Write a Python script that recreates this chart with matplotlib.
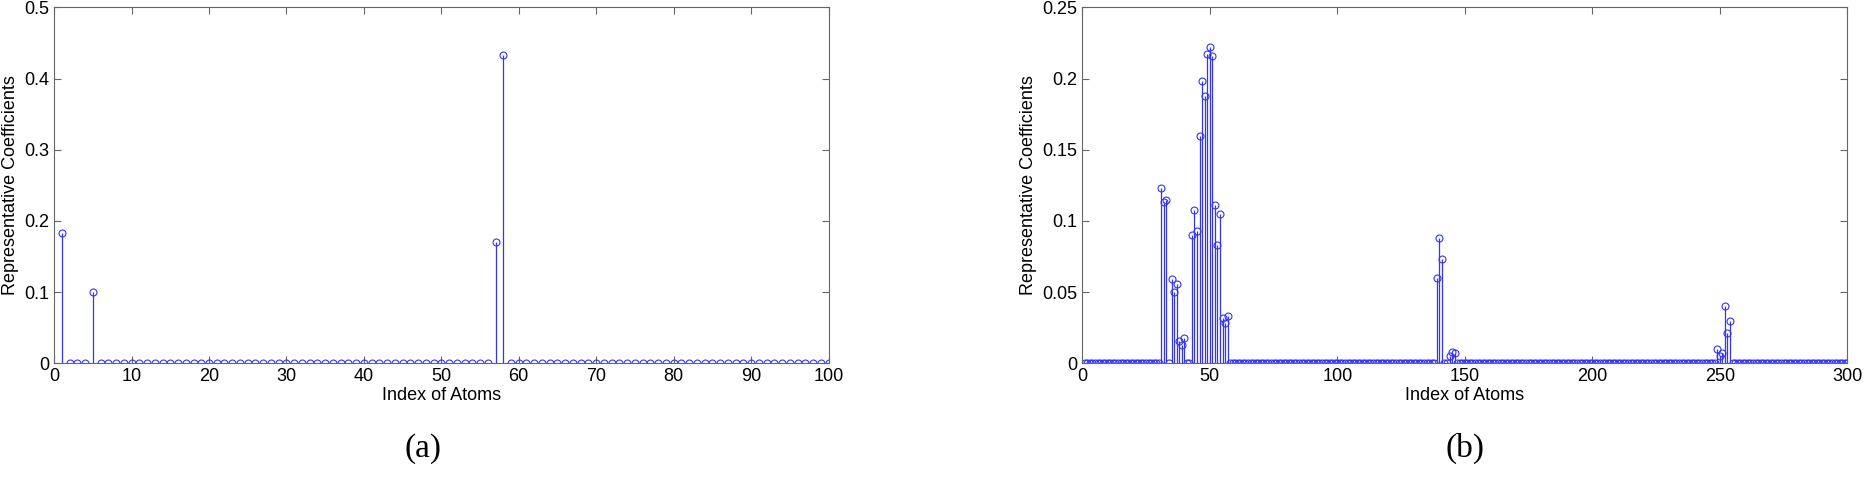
import numpy as np
import matplotlib
matplotlib.use("Agg")
import matplotlib.pyplot as plt

# Left panel data (100 atoms)
left_idx = list(range(1, 101))
left_nonzero = {1: 0.183, 5: 0.100, 57: 0.170, 58: 0.433}
left_vals = [left_nonzero.get(i, 0.0) for i in left_idx]

# Right panel data (300 atoms)
right_idx = list(range(1, 301))
right_nonzero = {
    31: 0.123, 32: 0.113, 33: 0.115, 35: 0.059, 36: 0.050, 37: 0.056,
    38: 0.016, 39: 0.013, 40: 0.018,
    43: 0.090, 44: 0.108, 45: 0.093, 46: 0.160, 47: 0.198, 48: 0.188,
    49: 0.217, 50: 0.222, 51: 0.216, 52: 0.111, 53: 0.083, 54: 0.105,
    55: 0.032, 56: 0.028, 57: 0.033,
    139: 0.060, 140: 0.088, 141: 0.073, 144: 0.005, 145: 0.008, 146: 0.007,
    249: 0.010, 250: 0.005, 251: 0.007, 252: 0.040, 253: 0.021, 254: 0.030,
}
right_vals = [right_nonzero.get(i, 0.0) for i in right_idx]

plt.rcParams['font.family'] = ['Liberation Sans', 'DejaVu Sans']
fig = plt.figure(figsize=(18.66, 4.91), dpi=100)
blue = '#3333ff'

def stem(ax, x, y, ms):
    ax.vlines(x, 0, y, color=blue, lw=0.9)
    ax.plot(x, y, 'o', mfc='none', mec=blue, ms=ms, mew=0.8, ls='none')
    for s in ax.spines.values():
        s.set_color('#666666')
    ax.tick_params(direction='in', labelsize=13, colors='#666666', labelcolor='black',
                   top=True, right=True, length=5)
    ax.set_xlabel('Index of Atoms', fontsize=13, labelpad=1)
    ax.set_ylabel('Representative Coefficients', fontsize=13)

ax1 = fig.add_axes([0.029, 0.26, 0.415, 0.725])
stem(ax1, left_idx, left_vals, 5)
ax1.set_xlim(0, 100); ax1.set_ylim(0, 0.5)
ax1.set_xticks(range(0, 101, 10))
ax1.set_yticks([0, 0.1, 0.2, 0.3, 0.4, 0.5])
ax1.set_yticklabels(['0', '0.1', '0.2', '0.3', '0.4', '0.5'])

ax2 = fig.add_axes([0.58, 0.26, 0.41, 0.725])
stem(ax2, right_idx, right_vals, 5)
ax2.set_xlim(0, 300); ax2.set_ylim(0, 0.25)
ax2.set_xticks(range(0, 301, 50))
ax2.set_yticks([0, 0.05, 0.1, 0.15, 0.2, 0.25])
ax2.set_yticklabels(['0', '0.05', '0.1', '0.15', '0.2', '0.25'])

fig.text(0.2265, 0.07, '(a)', family='Liberation Serif', fontsize=24, ha='center')
fig.text(0.785, 0.07, '(b)', family='Liberation Serif', fontsize=24, ha='center')

fig.savefig('out.png', dpi=100)
